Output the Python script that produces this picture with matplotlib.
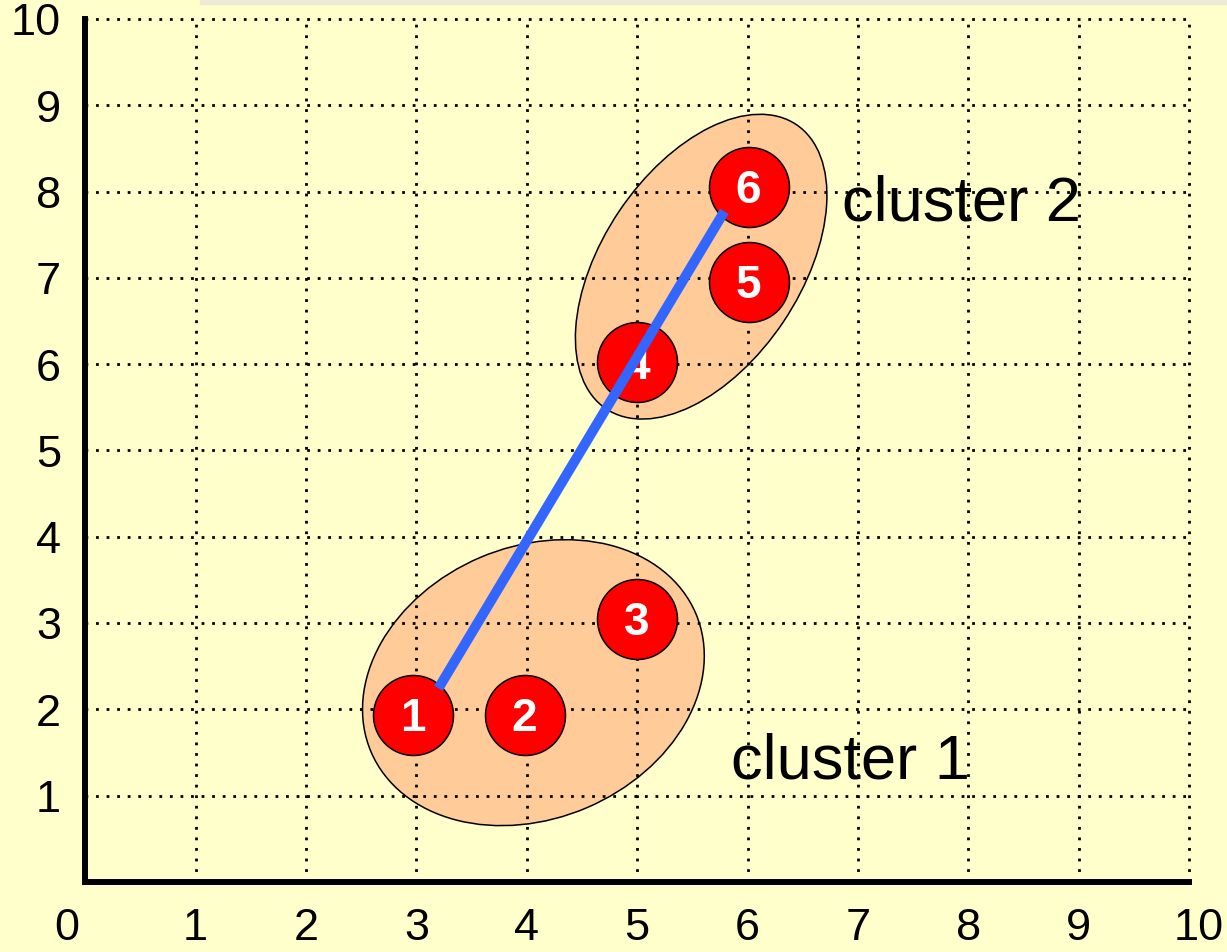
import matplotlib
matplotlib.use('Agg')
import matplotlib.pyplot as plt
from matplotlib.patches import Ellipse, Rectangle
from matplotlib import transforms

plt.rcParams['font.family'] = ['Liberation Sans', 'DejaVu Sans']

# ---- data ----
point_ids = ['1', '2', '3', '4', '5', '6']
point_x = [2.97, 3.98, 5.0, 5.0, 6.01, 6.01]
point_y = [1.94, 1.94, 3.05, 6.02, 6.95, 8.05]

cluster_names = ['cluster 1', 'cluster 2']
cluster_center_x = [4.06, 5.58]
cluster_center_y = [2.31, 7.13]

link_x = [3.2, 5.79]
link_y = [2.245, 7.77]

x_ticks = list(range(0, 11))
y_ticks = list(range(1, 11))
x_tick_labels = [str(v) for v in x_ticks]
y_tick_labels = [str(v) for v in y_ticks]

# ---- styles ----
BG = '#FFFFCC'
W, H = 1227, 952
fig = plt.figure(figsize=(W / 100, H / 100), dpi=100, facecolor=BG)
ax = fig.add_axes([85.3 / W, 70 / H, (1189 - 85.3) / W, (882 - 19) / H])
ax.set_facecolor(BG)
ax.set_xlim(0, 10)
ax.set_ylim(0, 10)

for s in ['top', 'right']:
    ax.spines[s].set_visible(False)
for s in ['left', 'bottom']:
    ax.spines[s].set_linewidth(4.3)
    ax.spines[s].set_color('black')
    ax.spines[s].set_capstyle('projecting')
    ax.spines[s].set_zorder(6)

ax.set_xticks(x_ticks)
ax.set_yticks(y_ticks)
ax.tick_params(length=0, labelbottom=False, labelleft=False)

# dotted grid
dot = (0, (1, 2.8))
for v in x_ticks[1:]:
    ax.axvline(v, color='black', lw=2.0, linestyle=dot, zorder=2, clip_on=False)
for v in y_ticks:
    ax.axhline(v, color='black', lw=2.0, linestyle=dot, zorder=2, clip_on=False)

# tick labels
x_offsets = {0: -13.5, 10: 7.0}
for v, lab in zip(x_ticks, x_tick_labels):
    ax.annotate(lab, xy=(v, 0), xycoords=('data', 'axes fraction'),
                xytext=(x_offsets.get(v, 0), -19), textcoords='offset points',
                ha='center', va='top', fontsize=32.5, color='black',
                annotation_clip=False)
for v, lab in zip(y_ticks, y_tick_labels):
    ax.annotate(lab, xy=(0, v), xycoords=('axes fraction', 'data'),
                xytext=(-17.5, -3.5), textcoords='offset points',
                ha='right', va='center', fontsize=32.5, color='black',
                annotation_clip=False)

# cluster ellipses (sizes in pixels)
ell_sizes = [(353, 272, 23.1), (342, 198, 56.2)]
for cx, cy, (w, h, a) in zip(cluster_center_x, cluster_center_y, ell_sizes):
    tr = fig.dpi_scale_trans + transforms.ScaledTranslation(cx, cy, ax.transData)
    e = Ellipse((0, 0), w / 100, h / 100, angle=a, transform=tr,
                facecolor='#FFCC99', edgecolor='black', lw=1.1, zorder=1)
    ax.add_patch(e)

# cluster labels
ax.text(5.85, 1.20, cluster_names[0], fontsize=45.5, ha='left', va='baseline',
        color='black', zorder=1.5)
ax.text(6.86, 7.67, cluster_names[1], fontsize=45.5, ha='left', va='baseline',
        color='black', zorder=1.5)

# points
ax.scatter(point_x, point_y, s=(80 * 0.72) ** 2, c='#FF0000',
           edgecolors='black', linewidths=1.1, zorder=3, clip_on=False)
for px, py, pid in zip(point_x, point_y, point_ids):
    ax.annotate(pid, xy=(px, py), xytext=(0, -3), textcoords='offset points',
                ha='center', va='center', fontsize=33, fontweight='bold',
                color='white', zorder=4)

# linkage line
ax.plot(link_x, link_y, color='#3366FF', lw=7.2, solid_capstyle='butt', zorder=5)

# faint shadow at top
fig.patches.append(Rectangle((200 / W, (H - 4) / H), 1, 4 / H,
                             transform=fig.transFigure, color='#ECECD6',
                             zorder=0))

fig.savefig('out.png', dpi=100, facecolor=BG)
